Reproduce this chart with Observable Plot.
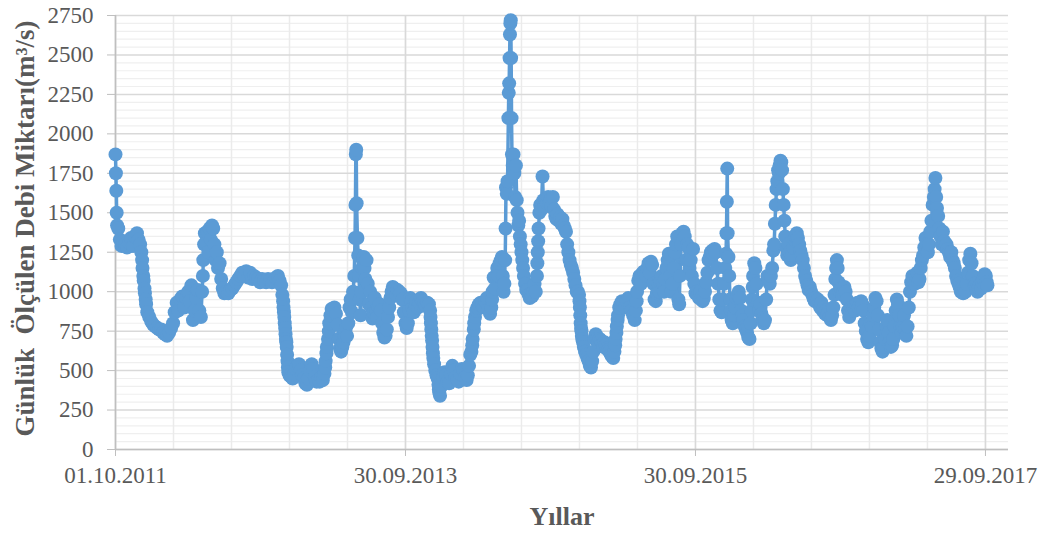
<!DOCTYPE html>
<html><head><meta charset="utf-8">
<script src="https://cdn.jsdelivr.net/npm/d3@7"></script>
<script src="https://cdn.jsdelivr.net/npm/@observablehq/plot@0.6"></script>
<style>body{margin:0;background:#fff}</style>
</head><body><div id="chart"></div>
<script>
// Daily discharge readings (m3/s), grouped by water year
const wy2012 = [["2011-10-01",1870],["2011-10-02",1750],["2011-10-03",1640],["2011-10-04",1500],["2011-10-05",1420],["2011-10-08",1400],["2011-10-12",1330],["2011-10-16",1290],["2011-10-20",1320],["2011-10-25",1300],["2011-10-30",1280],["2011-11-04",1310],["2011-11-09",1340],["2011-11-14",1290],["2011-11-19",1350],["2011-11-24",1370],["2011-11-28",1330],["2011-12-02",1300],["2011-12-05",1250],["2011-12-07",1200],["2011-12-08",1150],["2011-12-10",1100],["2011-12-11",1070],["2011-12-13",1020],["2011-12-14",990],["2011-12-16",950],["2011-12-17",920],["2011-12-20",870],["2011-12-25",840],["2011-12-30",810],["2012-01-04",790],["2012-01-09",780],["2012-01-14",770],["2012-01-19",760],["2012-01-24",760],["2012-01-29",740],["2012-02-03",730],["2012-02-08",720],["2012-02-13",740],["2012-02-18",770],["2012-02-23",800],["2012-02-27",870],["2012-03-03",930],["2012-03-07",880],["2012-03-12",950],["2012-03-17",970],["2012-03-22",900],["2012-03-27",960],["2012-04-01",1000],["2012-04-05",940],["2012-04-09",1040],["2012-04-13",820],["2012-04-17",880],["2012-04-21",960],["2012-04-25",1010],["2012-04-29",880],["2012-05-03",840],["2012-05-06",1000],["2012-05-08",1100],["2012-05-09",1200],["2012-05-11",1300],["2012-05-13",1370],["2012-05-16",1310],["2012-05-19",1380],["2012-05-22",1250],["2012-05-25",1400],["2012-05-28",1330],["2012-05-31",1420],["2012-06-03",1400],["2012-06-06",1300],["2012-06-09",1200],["2012-06-12",1250],["2012-06-15",1150],["2012-06-19",1180],["2012-06-23",1080],["2012-06-27",1020],["2012-07-01",990],["2012-07-06",1000],["2012-07-11",990],["2012-07-16",1010],["2012-07-21",1020],["2012-07-26",1040],["2012-07-31",1060],["2012-08-05",1080],["2012-08-10",1100],["2012-08-15",1120],["2012-08-20",1100],["2012-08-25",1130],["2012-08-30",1090],["2012-09-04",1120],["2012-09-09",1080],["2012-09-14",1100],["2012-09-19",1090],["2012-09-24",1080],["2012-09-29",1060]];
const wy2013 = [["2012-10-04",1080],["2012-10-09",1070],["2012-10-14",1060],["2012-10-19",1080],["2012-10-24",1070],["2012-10-29",1060],["2012-11-03",1070],["2012-11-08",1090],["2012-11-13",1100],["2012-11-17",1070],["2012-11-21",1040],["2012-11-24",980],["2012-11-26",940],["2012-11-27",900],["2012-11-28",870],["2012-11-29",840],["2012-11-30",800],["2012-12-01",770],["2012-12-02",730],["2012-12-03",700],["2012-12-04",680],["2012-12-05",650],["2012-12-06",600],["2012-12-07",560],["2012-12-08",520],["2012-12-09",490],["2012-12-12",470],["2012-12-16",460],["2012-12-20",450],["2012-12-24",480],["2012-12-28",510],["2013-01-01",530],["2013-01-05",540],["2013-01-09",500],["2013-01-13",470],["2013-01-17",450],["2013-01-21",420],["2013-01-25",410],["2013-01-29",450],["2013-02-02",500],["2013-02-06",540],["2013-02-10",510],["2013-02-14",460],["2013-02-18",430],["2013-02-22",440],["2013-02-26",430],["2013-03-02",460],["2013-03-06",440],["2013-03-10",480],["2013-03-12",520],["2013-03-13",560],["2013-03-15",610],["2013-03-16",650],["2013-03-19",700],["2013-03-21",750],["2013-03-22",800],["2013-03-25",850],["2013-03-28",890],["2013-03-31",880],["2013-04-04",900],["2013-04-08",860],["2013-04-12",790],["2013-04-15",700],["2013-04-18",640],["2013-04-21",620],["2013-04-24",650],["2013-04-27",680],["2013-04-30",720],["2013-05-03",770],["2013-05-06",720],["2013-05-09",800],["2013-05-12",900],["2013-05-15",950],["2013-05-18",870],["2013-05-21",1000],["2013-05-24",1100],["2013-05-26",1340],["2013-05-27",1550],["2013-05-28",1870],["2013-05-29",1900],["2013-05-30",1560],["2013-06-01",1340],["2013-06-03",1230],["2013-06-05",1100],["2013-06-07",950],["2013-06-09",850],["2013-06-11",1000],["2013-06-13",1150],["2013-06-15",1200],["2013-06-17",1220],["2013-06-19",1150],["2013-06-21",1080],["2013-06-24",1200],["2013-06-27",1050],["2013-06-30",920],["2013-07-03",1000],["2013-07-06",900],["2013-07-09",830],["2013-07-12",870],["2013-07-15",960],["2013-07-18",880],["2013-07-21",840],["2013-07-24",900],["2013-07-27",920],["2013-07-30",880],["2013-08-02",800],["2013-08-05",740],["2013-08-08",710],["2013-08-11",720],["2013-08-14",760],["2013-08-17",840],["2013-08-20",900],["2013-08-23",960],["2013-08-26",1000],["2013-08-29",1030],["2013-09-02",1020],["2013-09-06",980],["2013-09-10",1010],["2013-09-14",1000],["2013-09-18",990],["2013-09-22",950],["2013-09-26",870],["2013-09-30",800]];
const wy2014 = [["2013-10-03",770],["2013-10-06",800],["2013-10-09",880],["2013-10-12",960],["2013-10-15",940],["2013-10-18",900],["2013-10-21",870],["2013-10-24",920],["2013-10-27",940],["2013-10-31",900],["2013-11-04",930],["2013-11-08",960],["2013-11-12",940],["2013-11-16",920],["2013-11-20",910],["2013-11-24",930],["2013-11-28",920],["2013-12-01",880],["2013-12-02",840],["2013-12-03",800],["2013-12-04",760],["2013-12-05",720],["2013-12-06",690],["2013-12-07",650],["2013-12-08",610],["2013-12-09",580],["2013-12-11",540],["2013-12-14",500],["2013-12-17",470],["2013-12-20",450],["2013-12-22",410],["2013-12-23",380],["2013-12-24",360],["2013-12-26",340],["2013-12-29",400],["2014-01-02",460],["2014-01-06",490],["2014-01-10",470],["2014-01-14",430],["2014-01-18",420],["2014-01-22",480],["2014-01-26",530],["2014-01-30",500],["2014-02-03",460],["2014-02-07",440],["2014-02-11",430],["2014-02-15",480],["2014-02-19",510],["2014-02-23",500],["2014-02-27",460],["2014-03-03",440],["2014-03-06",470],["2014-03-09",530],["2014-03-12",600],["2014-03-15",620],["2014-03-17",660],["2014-03-18",700],["2014-03-21",760],["2014-03-22",800],["2014-03-24",840],["2014-03-27",880],["2014-03-30",900],["2014-04-03",920],["2014-04-07",930],["2014-04-11",920],["2014-04-15",900],["2014-04-19",940],["2014-04-23",960],["2014-04-27",890],["2014-05-01",860],["2014-05-04",900],["2014-05-06",950],["2014-05-07",1000],["2014-05-10",1090],["2014-05-13",1020],["2014-05-16",1100],["2014-05-19",1150],["2014-05-22",1100],["2014-05-25",1180],["2014-05-28",1200],["2014-05-31",1220],["2014-06-02",1100],["2014-06-04",1000],["2014-06-06",1050],["2014-06-08",1200],["2014-06-09",1400],["2014-06-10",1660],["2014-06-12",1620],["2014-06-14",1700],["2014-06-16",2100],["2014-06-17",2260],["2014-06-18",2320],["2014-06-19",2480],["2014-06-20",2630],["2014-06-21",2700],["2014-06-22",2720],["2014-06-23",2480],["2014-06-24",2100],["2014-06-25",1870],["2014-06-27",1800],["2014-06-29",1870],["2014-07-01",1750],["2014-07-03",1600],["2014-07-05",1800],["2014-07-07",1580],["2014-07-09",1500],["2014-07-11",1420],["2014-07-13",1450],["2014-07-15",1350],["2014-07-17",1300],["2014-07-19",1250],["2014-07-21",1200],["2014-07-23",1150],["2014-07-25",1100],["2014-07-28",1050],["2014-07-31",1010],["2014-08-03",1010],["2014-08-06",980],["2014-08-09",960],["2014-08-12",990],["2014-08-15",970],["2014-08-18",1000],["2014-08-21",1050],["2014-08-24",1000],["2014-08-27",1100],["2014-08-28",1180],["2014-08-29",1250],["2014-08-30",1320],["2014-08-31",1400],["2014-09-02",1500],["2014-09-04",1550],["2014-09-07",1520],["2014-09-10",1730],["2014-09-12",1580],["2014-09-15",1540],["2014-09-18",1580],["2014-09-21",1560],["2014-09-24",1600],["2014-09-27",1560],["2014-09-30",1580]];
const wy2015 = [["2014-10-03",1540],["2014-10-06",1600],["2014-10-09",1520],["2014-10-12",1480],["2014-10-15",1460],["2014-10-18",1490],["2014-10-21",1450],["2014-10-24",1470],["2014-10-27",1430],["2014-10-30",1460],["2014-11-02",1420],["2014-11-05",1400],["2014-11-08",1380],["2014-11-11",1300],["2014-11-14",1250],["2014-11-17",1200],["2014-11-20",1170],["2014-11-23",1150],["2014-11-26",1120],["2014-11-29",1080],["2014-12-02",1040],["2014-12-05",1000],["2014-12-08",1000],["2014-12-11",980],["2014-12-12",940],["2014-12-13",900],["2014-12-14",850],["2014-12-15",800],["2014-12-16",770],["2014-12-17",750],["2014-12-18",720],["2014-12-19",700],["2014-12-21",680],["2014-12-23",650],["2014-12-26",620],["2014-12-29",600],["2015-01-01",580],["2015-01-04",560],["2015-01-07",530],["2015-01-10",520],["2015-01-13",560],["2015-01-16",620],["2015-01-19",700],["2015-01-22",730],["2015-01-25",700],["2015-01-28",680],["2015-02-01",700],["2015-02-04",690],["2015-02-07",670],["2015-02-10",650],["2015-02-13",680],["2015-02-16",660],["2015-02-19",640],["2015-02-22",630],["2015-02-25",620],["2015-03-01",600],["2015-03-04",590],["2015-03-07",580],["2015-03-10",620],["2015-03-12",660],["2015-03-13",700],["2015-03-15",740],["2015-03-16",780],["2015-03-18",820],["2015-03-19",850],["2015-03-22",900],["2015-03-25",920],["2015-03-29",940],["2015-04-02",930],["2015-04-06",900],["2015-04-10",940],["2015-04-14",960],["2015-04-18",900],["2015-04-22",880],["2015-04-26",850],["2015-04-30",820],["2015-05-03",880],["2015-05-05",940],["2015-05-06",1000],["2015-05-09",1070],["2015-05-12",1100],["2015-05-16",1050],["2015-05-20",1120],["2015-05-24",1130],["2015-05-28",1100],["2015-06-01",1150],["2015-06-04",1180],["2015-06-07",1120],["2015-06-10",1190],["2015-06-13",1170],["2015-06-16",1050],["2015-06-19",950],["2015-06-22",940],["2015-06-25",990],["2015-06-28",1050],["2015-07-01",1000],["2015-07-04",1060],["2015-07-07",1100],["2015-07-10",1050],["2015-07-13",1000],["2015-07-16",1080],["2015-07-19",1150],["2015-07-22",1200],["2015-07-25",1240],["2015-07-28",1100],["2015-07-31",1000],["2015-08-03",1050],["2015-08-06",1150],["2015-08-09",1250],["2015-08-12",1300],["2015-08-15",1350],["2015-08-18",950],["2015-08-20",920],["2015-08-22",1100],["2015-08-25",1300],["2015-08-28",1370],["2015-08-31",1380],["2015-09-03",1350],["2015-09-06",1200],["2015-09-09",1300],["2015-09-12",1280],["2015-09-15",1150],["2015-09-18",1200],["2015-09-21",1100],["2015-09-24",1270],["2015-09-27",1050],["2015-09-30",990]];
const wy2016 = [["2015-10-03",1000],["2015-10-06",980],["2015-10-09",960],["2015-10-12",1000],["2015-10-15",960],["2015-10-18",940],["2015-10-21",960],["2015-10-24",1000],["2015-10-27",1060],["2015-10-30",1120],["2015-11-02",1200],["2015-11-05",1220],["2015-11-08",1250],["2015-11-11",1260],["2015-11-14",1240],["2015-11-17",1270],["2015-11-20",1250],["2015-11-23",1150],["2015-11-26",1050],["2015-11-29",950],["2015-12-02",880],["2015-12-05",870],["2015-12-08",950],["2015-12-11",1050],["2015-12-14",1150],["2015-12-16",1240],["2015-12-17",1370],["2015-12-18",1570],["2015-12-19",1780],["2015-12-20",1370],["2015-12-22",1220],["2015-12-24",1100],["2015-12-26",950],["2015-12-28",880],["2015-12-30",820],["2016-01-02",800],["2016-01-05",850],["2016-01-08",900],["2016-01-11",960],["2016-01-14",980],["2016-01-17",1000],["2016-01-20",960],["2016-01-23",880],["2016-01-26",850],["2016-01-29",820],["2016-02-01",780],["2016-02-04",760],["2016-02-07",740],["2016-02-10",710],["2016-02-13",700],["2016-02-16",800],["2016-02-18",880],["2016-02-19",950],["2016-02-21",1030],["2016-02-22",1100],["2016-02-25",1180],["2016-02-28",1150],["2016-03-02",1050],["2016-03-05",930],["2016-03-08",880],["2016-03-11",920],["2016-03-14",860],["2016-03-17",830],["2016-03-20",800],["2016-03-23",820],["2016-03-26",950],["2016-03-29",1100],["2016-04-01",1080],["2016-04-04",1050],["2016-04-07",1100],["2016-04-10",1150],["2016-04-13",1260],["2016-04-15",1300],["2016-04-17",1430],["2016-04-19",1550],["2016-04-21",1650],["2016-04-23",1700],["2016-04-25",1770],["2016-04-27",1750],["2016-04-29",1800],["2016-05-01",1830],["2016-05-03",1820],["2016-05-05",1770],["2016-05-07",1650],["2016-05-09",1550],["2016-05-11",1450],["2016-05-13",1350],["2016-05-15",1280],["2016-05-18",1230],["2016-05-21",1300],["2016-05-24",1250],["2016-05-27",1200],["2016-05-30",1230],["2016-06-02",1280],["2016-06-05",1330],["2016-06-08",1350],["2016-06-11",1370],["2016-06-14",1340],["2016-06-17",1300],["2016-06-20",1260],["2016-06-23",1230],["2016-06-26",1200],["2016-06-29",1150],["2016-07-02",1100],["2016-07-05",1070],["2016-07-08",1040],["2016-07-11",1010],["2016-07-14",1030],["2016-07-17",1000],["2016-07-20",980],["2016-07-23",960],["2016-07-26",940],["2016-07-29",960],["2016-08-03",950],["2016-08-06",920],["2016-08-09",900],["2016-08-12",930],["2016-08-15",880],["2016-08-18",900],["2016-08-21",860],["2016-08-24",880],["2016-08-27",850],["2016-08-30",870],["2016-09-02",840],["2016-09-05",820],["2016-09-08",850],["2016-09-11",900],["2016-09-14",980],["2016-09-16",1080],["2016-09-18",1150],["2016-09-20",1200],["2016-09-22",1150],["2016-09-24",1060],["2016-09-27",1000],["2016-09-30",1020]];
const wy2017 = [["2016-10-03",980],["2016-10-06",1000],["2016-10-09",1030],["2016-10-12",1000],["2016-10-15",950],["2016-10-18",880],["2016-10-21",840],["2016-10-24",860],["2016-10-27",900],["2016-10-30",880],["2016-11-02",900],["2016-11-05",880],["2016-11-08",920],["2016-11-11",930],["2016-11-14",900],["2016-11-17",920],["2016-11-20",940],["2016-11-23",920],["2016-11-26",880],["2016-11-29",800],["2016-12-02",750],["2016-12-05",700],["2016-12-08",680],["2016-12-11",720],["2016-12-14",800],["2016-12-17",780],["2016-12-20",850],["2016-12-23",900],["2016-12-26",960],["2016-12-29",940],["2017-01-01",850],["2017-01-04",760],["2017-01-07",680],["2017-01-10",640],["2017-01-13",620],["2017-01-16",650],["2017-01-19",700],["2017-01-22",780],["2017-01-25",820],["2017-01-28",740],["2017-01-31",680],["2017-02-03",650],["2017-02-06",660],["2017-02-09",700],["2017-02-12",780],["2017-02-15",880],["2017-02-18",950],["2017-02-21",920],["2017-02-24",850],["2017-02-27",780],["2017-03-02",740],["2017-03-05",780],["2017-03-08",850],["2017-03-11",760],["2017-03-14",720],["2017-03-17",780],["2017-03-20",900],["2017-03-23",1000],["2017-03-26",1060],["2017-03-29",1100],["2017-04-01",1080],["2017-04-04",1050],["2017-04-07",1100],["2017-04-10",1120],["2017-04-13",1060],["2017-04-16",1080],["2017-04-19",1150],["2017-04-22",1200],["2017-04-25",1230],["2017-04-28",1280],["2017-05-01",1340],["2017-05-04",1300],["2017-05-07",1250],["2017-05-10",1300],["2017-05-13",1380],["2017-05-16",1450],["2017-05-19",1550],["2017-05-22",1600],["2017-05-24",1650],["2017-05-26",1720],["2017-05-28",1600],["2017-05-30",1530],["2017-06-02",1480],["2017-06-05",1400],["2017-06-08",1350],["2017-06-11",1300],["2017-06-14",1380],["2017-06-17",1320],["2017-06-20",1280],["2017-06-23",1300],["2017-06-26",1270],["2017-06-29",1250],["2017-07-02",1220],["2017-07-05",1250],["2017-07-08",1200],["2017-07-11",1180],["2017-07-14",1150],["2017-07-17",1100],["2017-07-20",1070],["2017-07-23",1050],["2017-07-26",1030],["2017-07-29",1000],["2017-08-01",1020],["2017-08-04",990],["2017-08-07",1010],["2017-08-10",1000],["2017-08-13",1050],["2017-08-16",1120],["2017-08-19",1200],["2017-08-22",1240],["2017-08-25",1180],["2017-08-28",1100],["2017-08-31",1050],["2017-09-03",1040],["2017-09-06",1020],["2017-09-09",1000],["2017-09-12",1030],["2017-09-15",1040],["2017-09-18",1020],["2017-09-21",1060],["2017-09-24",1080],["2017-09-27",1110],["2017-09-30",1100],["2017-10-02",1060],["2017-10-04",1040]];

const tickDates = ["2011-10-01","2013-09-30","2015-09-30","2017-09-29"];
const tickLabels = ["01.10.2011","30.09.2013","30.09.2015","29.09.2017"];
const yTicks = [0,250,500,750,1000,1250,1500,1750,2000,2250,2500,2750];
const yTitle = "Günlük\u00a0 Ölçülen Debi Miktarı(m³/s)";
const xTitle = "Yıllar";

const parse = d3.utcParse("%Y-%m-%d");
const data = [...wy2012, ...wy2013, ...wy2014, ...wy2015, ...wy2016, ...wy2017]
  .map(([d, v]) => ({date: parse(d), flow: v}));
const start = parse(tickDates[0]);
const end = d3.utcDay.offset(start, 2248);
const minorX = d3.range(0, 2249, 146).map(k => d3.utcDay.offset(start, k));
const majorX = tickDates.map(parse);
const minorY = d3.range(0, 2751, 50).filter(v => v % 250 !== 0);
const labelOf = new Map(majorX.map((d, i) => [+d, tickLabels[i]]));

const chart = Plot.plot({
  width: 1046, height: 534,
  marginLeft: 115, marginRight: 38, marginTop: 15, marginBottom: 85,
  style: {fontFamily: '"Liberation Serif", "Times New Roman", serif', fontSize: "23px", color: "#595959", background: "#ffffff"},
  x: {type: "utc", domain: [start, end]},
  y: {domain: [0, 2750]},
  marks: [
    Plot.ruleY(minorY, {stroke: "#efefef", strokeWidth: 1.2}),
    Plot.ruleX(minorX, {stroke: "#ebebeb", strokeWidth: 1.5}),
    Plot.ruleY(yTicks, {stroke: "#d9d9d9", strokeWidth: 1.5}),
    Plot.ruleX(majorX, {stroke: "#d9d9d9", strokeWidth: 1.5}),
    Plot.ruleX([start], {stroke: "#bfbfbf", strokeWidth: 1.5}),
    Plot.ruleY([0], {stroke: "#bfbfbf", strokeWidth: 1.5}),
    Plot.axisY({ticks: yTicks, tickSize: 8, tickPadding: 14, tickFormat: d => String(d), stroke: "#bfbfbf", fill: "#595959", fontSize: 23, label: null}),
    Plot.axisX({ticks: majorX, tickSize: 7, tickPadding: 10, tickFormat: d => labelOf.get(+d), stroke: "#bfbfbf", fill: "#595959", fontSize: 23, label: null}),
    Plot.line(data, {x: "date", y: "flow", stroke: "#5B9BD5", strokeWidth: 3.5}),
    Plot.dot(data, {x: "date", y: "flow", r: 7, fill: "#5B9BD5"}),
    Plot.text([yTitle], {frameAnchor: "left", dx: -90, dy: -4, rotate: -90, textAnchor: "middle", lineAnchor: "middle", fontWeight: "bold", fontSize: 27, fill: "#595959"}),
    Plot.text([xTitle], {frameAnchor: "bottom", dy: 67, textAnchor: "middle", lineAnchor: "middle", fontWeight: "bold", fontSize: 26, fill: "#595959"})
  ]
});
document.getElementById("chart").append(chart);
</script>
</body></html>
